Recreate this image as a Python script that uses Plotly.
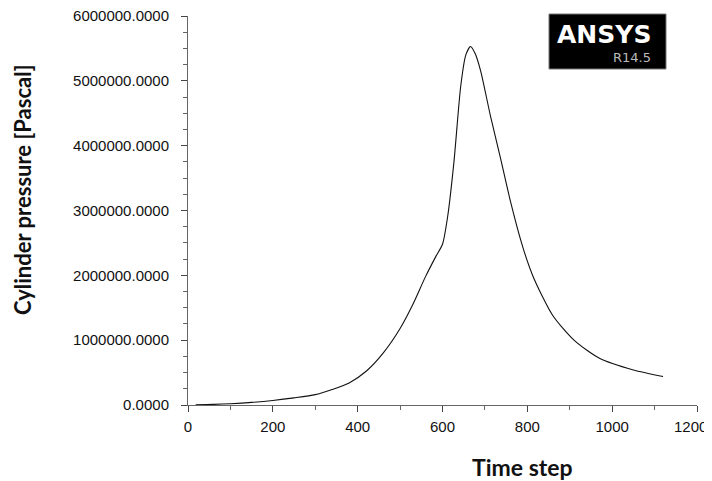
import plotly.graph_objects as go

time_step = [18, 60, 100, 150, 200, 250, 300, 340, 380, 420, 460, 500, 530, 560, 585,
             600, 612, 627, 643, 655, 666, 677, 690, 713, 737, 761, 790, 815, 860,
             910, 970, 1050, 1120]
pressure_mpa = [0.005, 0.01, 0.02, 0.04, 0.07, 0.11, 0.16, 0.24, 0.34, 0.52, 0.8, 1.18,
                1.55, 1.98, 2.3, 2.48, 2.9, 3.75, 4.92, 5.4, 5.53, 5.42, 5.15, 4.46, 3.8,
                3.12, 2.42, 1.96, 1.38, 1.0, 0.72, 0.54, 0.44]
pressure = [p * 1e6 for p in pressure_mpa]

x_ticks = [0, 200, 400, 600, 800, 1000, 1200]
y_ticks = [0, 1000000, 2000000, 3000000, 4000000, 5000000, 6000000]

# page is offset by the 8px body margin; work in page pixels and convert
OFF = 8
W, H = 712 - OFF, 481 - OFF
PL, PR, PT, PB = 188, 697, 16, 405  # plot area in page pixels
pw, ph = PR - PL, PB - PT


def px(xp):
    return (xp - PL) / pw


def py(yp):
    return (PB - yp) / ph


fig = go.Figure()
fig.add_trace(go.Scatter(x=time_step, y=pressure, mode="lines",
                         line=dict(color="#111111", width=1.1, shape="spline", smoothing=0.7),
                         showlegend=False, hoverinfo="skip"))

tick_font = dict(family="Liberation Sans, Arial, sans-serif", size=15, color="#111111")
# the last x label sits at the page edge; it is drawn as an annotation kept inside the page
x_ticktext = [str(v) for v in x_ticks[:-1]] + [""]
fig.update_layout(
    width=W, height=H,
    margin=dict(l=PL - OFF, r=712 - PR, t=PT - OFF, b=481 - PB, autoexpand=False),
    paper_bgcolor="white", plot_bgcolor="white",
    xaxis=dict(range=[0, 1200], tickvals=x_ticks, ticktext=x_ticktext,
               showgrid=False, zeroline=False, showline=True, linecolor="#666666",
               linewidth=1, ticks="outside", ticklen=6, tickcolor="#444444",
               minor=dict(dtick=100, ticks="outside", ticklen=4, tickcolor="#666666"),
               tickfont=tick_font, automargin=False, ticklabeloverflow="allow",
               ticklabelstandoff=2),
    yaxis=dict(range=[0, 6000000], tickvals=y_ticks,
               ticktext=[f"{v:.4f}" for v in y_ticks],
               showgrid=False, zeroline=False, showline=True, linecolor="#666666",
               linewidth=1, ticks="outside", ticklen=6, tickcolor="#444444",
               minor=dict(dtick=250000, ticks="outside", ticklen=4, tickcolor="#666666"),
               tickfont=tick_font, automargin=False, ticklabeloverflow="allow",
               ticklabelstandoff=9),
)
fig.add_annotation(text=str(x_ticks[-1]), xref="x", yref="paper", x=x_ticks[-1],
                   y=py(426), xanchor="right", yanchor="middle", xshift=11,
                   showarrow=False, borderpad=0, font=tick_font)

title_font = dict(family="Lato, Open Sans, sans-serif", size=22, color="#111111")
fig.add_annotation(text="<b>Cylinder pressure [Pascal]</b>", xref="paper", yref="paper",
                   x=px(22), y=py(190), xanchor="center", yanchor="middle",
                   textangle=-90, showarrow=False, borderpad=0, font=title_font)
fig.add_annotation(text="<b>Time step</b>", xref="paper", yref="paper",
                   x=px(522), y=py(467), xanchor="center", yanchor="middle",
                   showarrow=False, font=dict(family="Lato, Open Sans, sans-serif",
                                              size=23, color="#111111"))

# ANSYS logo box
fig.add_shape(type="rect", xref="paper", yref="paper",
              x0=px(549), x1=px(666), y0=py(69), y1=py(14),
              fillcolor="black", line=dict(color="#777777", width=1), layer="above")
fig.add_annotation(text="<b>ANSYS</b>", xref="paper", yref="paper",
                   x=px(604), y=py(34), xanchor="center", yanchor="middle",
                   showarrow=False,
                   font=dict(family="DejaVu Sans, sans-serif", size=25, color="white"))
fig.add_annotation(text="R14.5", xref="paper", yref="paper",
                   x=px(632), y=py(58), xanchor="center", yanchor="middle",
                   showarrow=False,
                   font=dict(family="DejaVu Sans, sans-serif", size=13, color="#bbbbbb"))

fig.write_html("out.html")
